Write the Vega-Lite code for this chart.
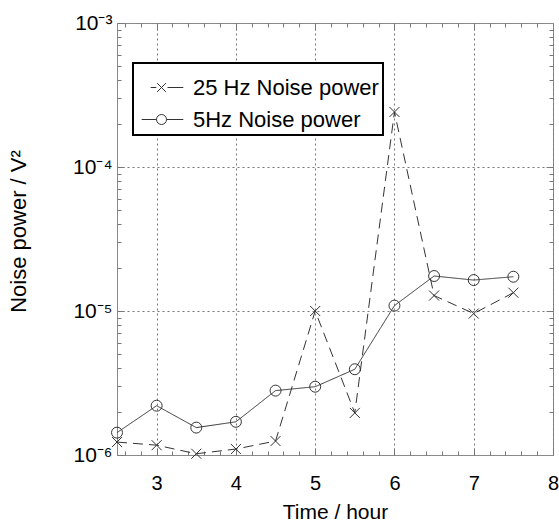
{
  "$schema": "https://vega.github.io/schema/vega-lite/v6.json",
  "width": 436,
  "height": 432,
  "autosize": {"type": "none"},
  "padding": {"left": 117, "top": 23, "right": 6, "bottom": 70},
  "background": "white",
  "config": {"font": "Liberation Sans", "view": {"stroke": "#8a8a8a", "strokeWidth": 1}},
  "data": {"values": [
    {"time": 2.5, "power": 1.23e-6, "series": "25 Hz Noise power"},
    {"time": 3.0, "power": 1.17e-6, "series": "25 Hz Noise power"},
    {"time": 3.5, "power": 1.02e-6, "series": "25 Hz Noise power"},
    {"time": 4.0, "power": 1.10e-6, "series": "25 Hz Noise power"},
    {"time": 4.5, "power": 1.25e-6, "series": "25 Hz Noise power"},
    {"time": 5.0, "power": 1.00e-5, "series": "25 Hz Noise power"},
    {"time": 5.5, "power": 1.96e-6, "series": "25 Hz Noise power"},
    {"time": 6.0, "power": 2.41e-4, "series": "25 Hz Noise power"},
    {"time": 6.5, "power": 1.28e-5, "series": "25 Hz Noise power"},
    {"time": 7.0, "power": 9.6e-6, "series": "25 Hz Noise power"},
    {"time": 7.5, "power": 1.34e-5, "series": "25 Hz Noise power"},
    {"time": 2.5, "power": 1.43e-6, "series": "5Hz Noise power"},
    {"time": 3.0, "power": 2.20e-6, "series": "5Hz Noise power"},
    {"time": 3.5, "power": 1.55e-6, "series": "5Hz Noise power"},
    {"time": 4.0, "power": 1.70e-6, "series": "5Hz Noise power"},
    {"time": 4.5, "power": 2.80e-6, "series": "5Hz Noise power"},
    {"time": 5.0, "power": 2.98e-6, "series": "5Hz Noise power"},
    {"time": 5.5, "power": 3.94e-6, "series": "5Hz Noise power"},
    {"time": 6.0, "power": 1.09e-5, "series": "5Hz Noise power"},
    {"time": 6.5, "power": 1.75e-5, "series": "5Hz Noise power"},
    {"time": 7.0, "power": 1.64e-5, "series": "5Hz Noise power"},
    {"time": 7.5, "power": 1.73e-5, "series": "5Hz Noise power"}
  ]},
  "layer": [
    {
      "mark": {"type": "line", "color": "#333", "strokeWidth": 1},
      "encoding": {
        "x": {"field": "time", "type": "quantitative",
          "scale": {"domain": [2.5, 8], "nice": false, "zero": false},
          "axis": {"orient": "bottom", "title": "Time / hour", "titleFont": "Liberation Sans", "titleFontSize": 21, "titleFontWeight": "normal", "titleColor": "black", "titlePadding": 5,
            "values": [2.6,2.8,3,3.2,3.4,3.6,3.8,4,4.2,4.4,4.6,4.8,5,5.2,5.4,5.6,5.8,6,6.2,6.4,6.6,6.8,7,7.2,7.4,7.6,7.8,8],
            "labelExpr": "abs(datum.value - round(datum.value)) < 0.001 ? format(datum.value, 'd') : ''",
            "labelFont": "Liberation Sans", "labelFontSize": 20, "labelColor": "black", "labelPadding": 25, "labelFlush": false, "labelOverlap": false,
            "domain": false, "tickColor": "#777", "tickWidth": 1,
            "tickSize": {"condition": {"test": "abs(datum.value - round(datum.value)) < 0.001", "value": -7}, "value": -4},
            "grid": true, "gridColor": "#777", "gridDash": [2, 3], "gridWidth": 1,
            "gridOpacity": {"condition": {"test": "abs(datum.value - round(datum.value)) < 0.001", "value": 1}, "value": 0}
          }},
        "y": {"field": "power", "type": "quantitative",
          "scale": {"type": "log", "domain": [1e-6, 1e-3], "nice": false},
          "axis": {"orient": "left", "title": "Noise power / V²", "titleFont": "Liberation Sans", "titleFontSize": 22, "titleFontWeight": "normal", "titleColor": "black", "titlePadding": 42, "titleY": 208,
            "values": [1e-6,2e-6,3e-6,4e-6,5e-6,6e-6,7e-6,8e-6,9e-6,1e-5,2e-5,3e-5,4e-5,5e-5,6e-5,7e-5,8e-5,9e-5,1e-4,2e-4,3e-4,4e-4,5e-4,6e-4,7e-4,8e-4,9e-4,1e-3],
            "labelExpr": "datum.value == 1e-3 ? '10⁻³' : datum.value == 1e-4 ? '10⁻⁴' : datum.value == 1e-5 ? '10⁻⁵' : datum.value == 1e-6 ? '10⁻⁶' : ''",
            "labelFont": "Liberation Sans", "labelFontSize": 21, "labelColor": "black", "labelPadding": 12, "labelFlush": false, "labelOverlap": false,
            "domain": false, "tickColor": "#777", "tickWidth": 1,
            "tickSize": {"condition": {"test": "datum.value == 1e-3 || datum.value == 1e-4 || datum.value == 1e-5 || datum.value == 1e-6", "value": -7}, "value": -4},
            "grid": true, "gridColor": "#777", "gridDash": [2, 3], "gridWidth": 1,
            "gridOpacity": {"condition": {"test": "datum.value == 1e-4 || datum.value == 1e-5", "value": 1}, "value": 0}
          }},
        "strokeDash": {"field": "series", "type": "nominal",
          "scale": {"domain": ["25 Hz Noise power", "5Hz Noise power"], "range": [[10, 6], [1, 0]]},
          "legend": null}
      }
    },
    {
      "transform": [{"filter": "datum.series == '25 Hz Noise power'"}],
      "mark": {"type": "point", "shape": "M-1,-1L1,1M-1,1L1,-1", "size": 100, "filled": false, "color": "#333", "strokeWidth": 1, "opacity": 1},
      "encoding": {
        "x": {"field": "time", "type": "quantitative", "axis": null},
        "y": {"field": "power", "type": "quantitative", "axis": null}
      }
    },
    {
      "transform": [{"filter": "datum.series == '5Hz Noise power'"}],
      "mark": {"type": "point", "shape": "circle", "size": 120, "filled": false, "color": "#333", "strokeWidth": 1, "opacity": 1},
      "encoding": {
        "x": {"field": "time", "type": "quantitative", "axis": null},
        "y": {"field": "power", "type": "quantitative", "axis": null}
      }
    },
    {
      "mark": {"type": "point", "opacity": 0, "filled": false},
      "encoding": {
        "x": {"field": "time", "type": "quantitative",
          "axis": {"orient": "top", "title": null, "labels": false, "domain": false, "grid": false,
            "values": [2.6,2.8,3,3.2,3.4,3.6,3.8,4,4.2,4.4,4.6,4.8,5,5.2,5.4,5.6,5.8,6,6.2,6.4,6.6,6.8,7,7.2,7.4,7.6,7.8],
            "tickColor": "#777", "tickWidth": 1,
            "tickSize": {"condition": {"test": "abs(datum.value - round(datum.value)) < 0.001", "value": -7}, "value": -4}}},
        "y": {"field": "power", "type": "quantitative",
          "axis": {"orient": "right", "title": null, "labels": false, "domain": false, "grid": false,
            "values": [2e-6,3e-6,4e-6,5e-6,6e-6,7e-6,8e-6,9e-6,1e-5,2e-5,3e-5,4e-5,5e-5,6e-5,7e-5,8e-5,9e-5,1e-4,2e-4,3e-4,4e-4,5e-4,6e-4,7e-4,8e-4,9e-4],
            "tickColor": "#777", "tickWidth": 1,
            "tickSize": {"condition": {"test": "datum.value == 1e-4 || datum.value == 1e-5", "value": -7}, "value": -4}}},
        "fill": {"field": "series", "type": "nominal",
          "scale": {"domain": ["25 Hz Noise power", "5Hz Noise power"], "range": ["black", "black"]},
          "legend": {"orient": "none", "legendX": 19, "legendY": 43, "title": null,
            "fillColor": "black", "strokeColor": "black", "padding": 4,
            "symbolType": "M-0.99,0L1.09,0M0,-0.25L0,0.25", "symbolSize": 1600, "symbolOpacity": 0, "symbolOffset": 4,
            "labelFont": "Liberation Sans", "labelFontSize": 22, "labelOpacity": 0, "labelColor": "black", "labelOffset": 11, "labelLimit": 400, "rowPadding": 0,
            "encode": {"legend": {"update": {"strokeWidth": {"value": 2}}}}}},
        "shape": {"field": "series", "type": "nominal",
          "scale": {"range": [
            "M-0.54,0L-0.26,0M-0.22,-0.22L0.22,0.22M-0.22,0.22L0.22,-0.22M0.3,0L1.09,0",
            "M-0.99,0L-0.25,0M0.25,0A0.25,0.25,0,1,1,-0.25,0A0.25,0.25,0,1,1,0.25,0M0.25,0L1.09,0"]},
          "legend": {"orient": "none", "legendX": 16, "legendY": 40, "title": null,
            "fillColor": "white", "strokeColor": "black", "padding": 4,
            "symbolSize": 1600, "symbolStrokeColor": "#333", "symbolStrokeWidth": 1, "symbolFillColor": "transparent", "symbolOpacity": 1, "symbolOffset": 4,
            "labelFont": "Liberation Sans", "labelFontSize": 22, "labelColor": "black", "labelOffset": 11, "labelLimit": 400, "rowPadding": 0,
            "encode": {"legend": {"update": {"strokeWidth": {"value": 2}}}}}}
      }
    }
  ],
  "resolve": {"axis": {"x": "independent", "y": "independent"}}
}
